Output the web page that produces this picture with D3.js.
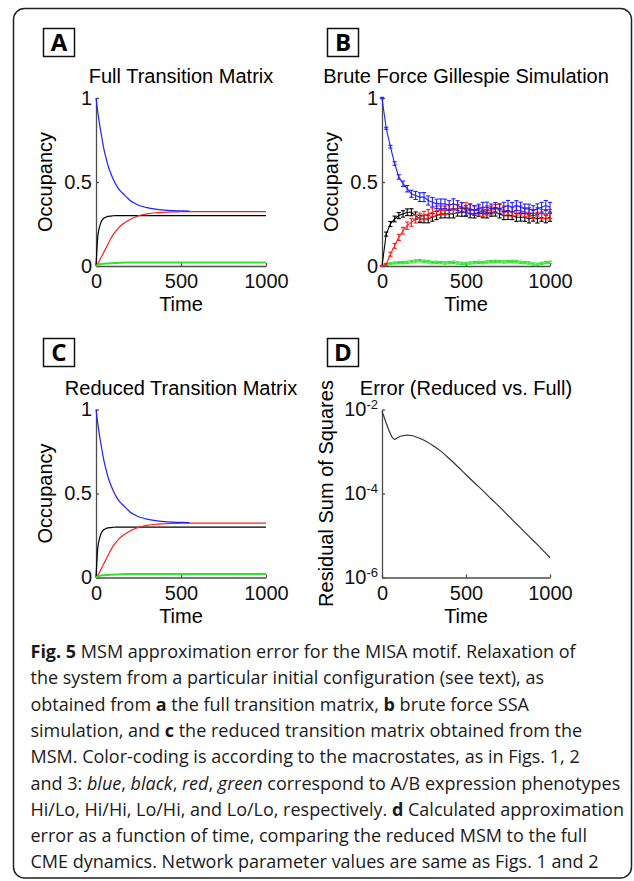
<!DOCTYPE html>
<html>
<head>
<meta charset="utf-8">
<script src="https://cdn.jsdelivr.net/npm/d3@7"></script>
<style>
  body { margin: 0; background: #fff; }
  svg { display: block; }
  .plot text { font-family: "Liberation Sans", Arial, Helvetica, sans-serif; }
</style>
</head>
<body>
<svg id="fig" width="634" height="881"></svg>
<script>
// ---- data ----
// A: full transition matrix
var timeFull = [0, 10, 20, 30, 40, 50, 60, 70, 80, 100, 120, 140, 160, 180, 200, 225, 250, 275, 300, 350, 400, 450, 500, 550, 600, 700, 800, 900, 1000];
var fullBlue  = [1.00, 0.92, 0.85, 0.79, 0.73, 0.68, 0.64, 0.60, 0.57, 0.52, 0.48, 0.45, 0.43, 0.41, 0.39, 0.375, 0.362, 0.354, 0.347, 0.338, 0.333, 0.330, 0.328, 0.327];
var fullBlack = [0, 0.17, 0.23, 0.262, 0.278, 0.287, 0.292, 0.295, 0.297, 0.299, 0.300, 0.300, 0.300, 0.300, 0.300, 0.300, 0.300, 0.300, 0.300, 0.300, 0.300, 0.300, 0.300, 0.300, 0.300, 0.300, 0.300, 0.300, 0.300];
var fullRed   = [0, 0.012, 0.03, 0.05, 0.07, 0.09, 0.11, 0.13, 0.15, 0.185, 0.212, 0.235, 0.252, 0.265, 0.277, 0.289, 0.298, 0.305, 0.31, 0.317, 0.32, 0.322, 0.323, 0.324, 0.324, 0.324, 0.324, 0.324, 0.324];
var fullGreen = [0, 0.006, 0.010, 0.012, 0.013, 0.014, 0.015, 0.015, 0.016, 0.017, 0.018, 0.019, 0.020, 0.021, 0.021, 0.021, 0.021, 0.021, 0.021, 0.021, 0.021, 0.021, 0.021, 0.021, 0.021, 0.021, 0.021, 0.021, 0.021];

// C: reduced transition matrix
var reducedBlue  = [1.00, 0.92, 0.85, 0.79, 0.73, 0.68, 0.64, 0.60, 0.57, 0.52, 0.48, 0.45, 0.43, 0.41, 0.39, 0.375, 0.362, 0.354, 0.347, 0.338, 0.333, 0.330, 0.328, 0.327];
var reducedBlack = [0, 0.17, 0.23, 0.262, 0.278, 0.287, 0.292, 0.295, 0.297, 0.299, 0.300, 0.300, 0.300, 0.300, 0.300, 0.300, 0.300, 0.300, 0.300, 0.300, 0.300, 0.300, 0.300, 0.300, 0.300, 0.300, 0.300, 0.300, 0.300];
var reducedRed   = [0, 0.012, 0.03, 0.05, 0.07, 0.09, 0.11, 0.13, 0.15, 0.185, 0.212, 0.235, 0.252, 0.265, 0.277, 0.289, 0.298, 0.305, 0.31, 0.317, 0.32, 0.322, 0.323, 0.324, 0.324, 0.324, 0.324, 0.324, 0.324];
var reducedGreen = [0, 0.006, 0.010, 0.012, 0.013, 0.014, 0.015, 0.015, 0.016, 0.017, 0.018, 0.019, 0.020, 0.021, 0.021, 0.021, 0.021, 0.021, 0.021, 0.021, 0.021, 0.021, 0.021, 0.021, 0.021, 0.021, 0.021, 0.021, 0.021];

// B: brute force Gillespie (mean +/- error)
var timeSSA = [0, 25, 50, 75, 100, 125, 150, 175, 200, 225, 250, 275, 300, 325, 350, 375, 400, 425, 450, 475, 500, 525, 550, 575, 600, 625, 650, 675, 700, 725, 750, 775, 800, 825, 850, 875, 900, 925, 950, 975, 1000];
var ssaBlue  = [1.00, 0.82, 0.71, 0.61, 0.53, 0.49, 0.46, 0.43, 0.42, 0.41, 0.41, 0.39, 0.38, 0.37, 0.37, 0.37, 0.36, 0.37, 0.36, 0.35, 0.33, 0.34, 0.33, 0.34, 0.35, 0.35, 0.34, 0.35, 0.34, 0.35, 0.36, 0.35, 0.36, 0.35, 0.34, 0.34, 0.33, 0.34, 0.35, 0.36, 0.35];
var ssaBlack = [0, 0.19, 0.25, 0.28, 0.30, 0.31, 0.32, 0.32, 0.30, 0.28, 0.28, 0.28, 0.29, 0.30, 0.31, 0.31, 0.31, 0.31, 0.32, 0.32, 0.32, 0.31, 0.31, 0.32, 0.31, 0.31, 0.32, 0.32, 0.31, 0.30, 0.30, 0.30, 0.29, 0.29, 0.29, 0.28, 0.29, 0.28, 0.29, 0.28, 0.29];
var ssaRed   = [0, 0.01, 0.07, 0.12, 0.17, 0.21, 0.24, 0.26, 0.28, 0.29, 0.30, 0.31, 0.32, 0.33, 0.33, 0.33, 0.34, 0.34, 0.34, 0.35, 0.35, 0.34, 0.33, 0.33, 0.32, 0.33, 0.33, 0.34, 0.34, 0.33, 0.33, 0.32, 0.33, 0.33, 0.32, 0.32, 0.31, 0.32, 0.31, 0.31, 0.31];
var ssaGreen = [0, 0.010, 0.015, 0.018, 0.020, 0.020, 0.022, 0.025, 0.030, 0.032, 0.028, 0.025, 0.020, 0.022, 0.020, 0.018, 0.020, 0.022, 0.018, 0.016, 0.015, 0.018, 0.020, 0.022, 0.020, 0.024, 0.026, 0.028, 0.026, 0.024, 0.026, 0.028, 0.026, 0.022, 0.020, 0.018, 0.012, 0.010, 0.015, 0.020, 0.022];
var ssaBlueErr  = [0.004, 0.006, 0.008, 0.010, 0.013, 0.016, 0.019, 0.021, 0.024, 0.026, 0.027, 0.027, 0.028, 0.028, 0.029, 0.028, 0.029, 0.030, 0.029, 0.028, 0.029, 0.030, 0.029, 0.028, 0.029, 0.030, 0.029, 0.028, 0.030, 0.029, 0.030, 0.028, 0.029, 0.030, 0.029, 0.028, 0.029, 0.030, 0.029, 0.030, 0.029];
var ssaBlackErr = [0.002, 0.012, 0.015, 0.017, 0.018, 0.019, 0.020, 0.021, 0.022, 0.022, 0.023, 0.023, 0.023, 0.024, 0.024, 0.023, 0.024, 0.024, 0.023, 0.024, 0.024, 0.023, 0.024, 0.024, 0.023, 0.024, 0.024, 0.023, 0.024, 0.024, 0.023, 0.024, 0.024, 0.023, 0.024, 0.024, 0.023, 0.024, 0.024, 0.023, 0.024];
var ssaRedErr   = [0.002, 0.006, 0.012, 0.015, 0.018, 0.020, 0.022, 0.023, 0.024, 0.025, 0.025, 0.026, 0.026, 0.026, 0.027, 0.026, 0.027, 0.027, 0.026, 0.027, 0.027, 0.026, 0.027, 0.027, 0.026, 0.027, 0.027, 0.026, 0.027, 0.027, 0.026, 0.027, 0.027, 0.026, 0.027, 0.027, 0.026, 0.027, 0.027, 0.026, 0.027];
var ssaGreenErr = [0.001, 0.004, 0.005, 0.006, 0.006, 0.007, 0.007, 0.007, 0.007, 0.007, 0.007, 0.007, 0.007, 0.007, 0.007, 0.007, 0.007, 0.007, 0.007, 0.007, 0.007, 0.007, 0.007, 0.007, 0.007, 0.007, 0.007, 0.007, 0.007, 0.007, 0.007, 0.007, 0.007, 0.007, 0.007, 0.007, 0.007, 0.007, 0.007, 0.007, 0.007];

// D: residual sum of squares, reduced vs full
var timeError = [0, 10, 20, 40, 60, 75, 90, 110, 130, 150, 175, 200, 250, 300, 350, 400, 450, 500, 550, 600, 650, 700, 750, 800, 850, 900, 950, 1000];
var residualSS = [0.0089, 0.0071, 0.0054, 0.0033, 0.0022, 0.00195, 0.0021, 0.0023, 0.0024, 0.00245, 0.0024, 0.00224, 0.00186, 0.00141, 0.00102, 6.8e-4, 4.4e-4, 2.8e-4, 1.8e-4, 1.17e-4, 7.4e-5, 4.8e-5, 3.0e-5, 1.9e-5, 1.2e-5, 7.6e-6, 4.8e-6, 2.95e-6];

var timeTicks = [0, 500, 1000];
var occupancyTicks = [0, 0.5, 1];
var errorTicks = [1e-6, 1e-4, 1e-2];

var colors = {blue: '#1f1fff', black: '#000000', red: '#ff1f1f', green: '#2ee62e'};
var axisColor = '#4d4d4d';

var svg = d3.select('#fig');

// outer rounded frame
svg.append('rect')
    .attr('x', 13.5).attr('y', 8.5)
    .attr('width', 618).attr('height', 869.5)
    .attr('rx', 11)
    .attr('fill', 'none')
    .attr('stroke', '#222')
    .attr('stroke-width', 1.5);

var leftX = [96, 266], rightX = [382, 550];
var topY = [266, 98], bottomY = [577.5, 409.5];

function panelLetter(x, y, letter) {
  svg.append('rect')
      .attr('x', x).attr('y', y)
      .attr('width', 31).attr('height', 28)
      .attr('fill', '#fff').attr('stroke', '#111').attr('stroke-width', 1.5);
  svg.append('text')
      .attr('x', x + 15.5).attr('y', y + 22.5)
      .attr('text-anchor', 'middle')
      .attr('font-family', '"Open Sans", "Liberation Sans", Arial, sans-serif')
      .attr('font-weight', 700).attr('font-size', 24)
      .text(letter);
}

function styleAxis(g) {
  g.attr('font-size', 20).attr('font-family', null);
  g.select('.domain').attr('stroke', axisColor).attr('stroke-width', 1.3);
  g.selectAll('.tick line').attr('stroke', axisColor).attr('stroke-width', 1.3);
  g.selectAll('.tick text').attr('fill', '#111');
}

// builds the axes frame of one panel and returns the scales
function makePanel(xr, yr, yScale, opts) {
  var g = svg.append('g').attr('class', 'plot');
  var x = d3.scaleLinear().domain([0, 1000]).range(xr);
  var y = yScale.range(yr);

  g.append('g')
      .attr('transform', 'translate(0,' + yr[0] + ')')
      .call(d3.axisBottom(x).tickValues(timeTicks).tickFormat(d3.format('d'))
          .tickSizeInner(-3).tickSizeOuter(0).tickPadding(8))
      .call(styleAxis);

  var yAxis = d3.axisLeft(y).tickValues(opts.ticks)
      .tickSizeInner(-3).tickSizeOuter(0).tickPadding(opts.pad || 4);
  if (opts.format) yAxis.tickFormat(opts.format);
  var yg = g.append('g')
      .attr('transform', 'translate(' + xr[0] + ',0)')
      .call(yAxis)
      .call(styleAxis);
  if (opts.decorate) opts.decorate(yg);

  var midX = (xr[0] + xr[1]) / 2;
  g.append('text')
      .attr('x', midX).attr('y', yr[1] - 15)
      .attr('text-anchor', 'middle').attr('font-size', 20)
      .text(opts.title);
  g.append('text')
      .attr('x', midX).attr('y', yr[0] + 45)
      .attr('text-anchor', 'middle').attr('font-size', 20)
      .text('Time');
  g.append('text')
      .attr('transform', 'translate(' + (xr[0] - opts.labelOffset) + ',' + ((yr[0] + yr[1]) / 2) + ') rotate(-90)')
      .attr('text-anchor', 'middle').attr('font-size', 20)
      .text(opts.ylabel);

  return {g: g, x: x, y: y};
}

function drawCurve(p, times, values, color, width) {
  var pts = values.map(function(v, i) { return [times[i], v]; });
  p.g.append('path')
      .datum(pts)
      .attr('fill', 'none')
      .attr('stroke', color)
      .attr('stroke-width', width || 1.2)
      .attr('stroke-linejoin', 'round')
      .attr('d', d3.line()
          .curve(d3.curveMonotoneX)
          .x(function(d) { return p.x(d[0]); })
          .y(function(d) { return p.y(d[1]); }));
}

function drawErrorSeries(p, times, values, errs, color) {
  var pts = values.map(function(v, i) { return {t: times[i], v: v, e: errs[i]}; });
  var s = p.g.append('g').attr('stroke', color).attr('stroke-width', 1.1).attr('fill', 'none');
  s.append('path')
      .datum(pts)
      .attr('d', d3.line()
          .x(function(d) { return p.x(d.t); })
          .y(function(d) { return p.y(d.v); }));
  var bars = s.selectAll('.bar').data(pts).enter().append('g').attr('class', 'bar');
  var cap = 2.1;
  bars.append('line')
      .attr('x1', function(d) { return p.x(d.t); })
      .attr('x2', function(d) { return p.x(d.t); })
      .attr('y1', function(d) { return p.y(d.v - d.e); })
      .attr('y2', function(d) { return p.y(d.v + d.e); });
  bars.append('line')
      .attr('x1', function(d) { return p.x(d.t) - cap; })
      .attr('x2', function(d) { return p.x(d.t) + cap; })
      .attr('y1', function(d) { return p.y(d.v - d.e); })
      .attr('y2', function(d) { return p.y(d.v - d.e); });
  bars.append('line')
      .attr('x1', function(d) { return p.x(d.t) - cap; })
      .attr('x2', function(d) { return p.x(d.t) + cap; })
      .attr('y1', function(d) { return p.y(d.v + d.e); })
      .attr('y2', function(d) { return p.y(d.v + d.e); });
}

var occFormat = function(d) { return d === 0.5 ? '0.5' : String(d); };

// ---- A ----
var pA = makePanel(leftX, topY, d3.scaleLinear().domain([0, 1]),
    {ticks: occupancyTicks, format: occFormat, title: 'Full Transition Matrix', ylabel: 'Occupancy', labelOffset: 44});
drawCurve(pA, timeFull, fullBlack, colors.black);
drawCurve(pA, timeFull, fullRed, colors.red);
drawCurve(pA, timeFull, fullGreen, colors.green, 2);
drawCurve(pA, timeFull, fullBlue, colors.blue);

// ---- B ----
var pB = makePanel(rightX, topY, d3.scaleLinear().domain([0, 1]),
    {ticks: occupancyTicks, format: occFormat, title: 'Brute Force Gillespie Simulation', ylabel: 'Occupancy', labelOffset: 44});
drawErrorSeries(pB, timeSSA, ssaGreen, ssaGreenErr, colors.green);
drawErrorSeries(pB, timeSSA, ssaBlack, ssaBlackErr, colors.black);
drawErrorSeries(pB, timeSSA, ssaRed, ssaRedErr, colors.red);
drawErrorSeries(pB, timeSSA, ssaBlue, ssaBlueErr, colors.blue);

// ---- C ----
var pC = makePanel(leftX, bottomY, d3.scaleLinear().domain([0, 1]),
    {ticks: occupancyTicks, format: occFormat, title: 'Reduced Transition Matrix', ylabel: 'Occupancy', labelOffset: 44});
drawCurve(pC, timeFull, reducedBlack, colors.black);
drawCurve(pC, timeFull, reducedRed, colors.red);
drawCurve(pC, timeFull, reducedGreen, colors.green, 2);
drawCurve(pC, timeFull, reducedBlue, colors.blue);

// ---- D ----
var pD = makePanel(rightX, bottomY, d3.scaleLog().domain([1e-6, 1e-2]),
    {ticks: errorTicks, title: 'Error (Reduced vs. Full)', ylabel: 'Residual Sum of Squares', labelOffset: 49,
     decorate: function(yg) {
       yg.selectAll('.tick text').each(function(d) {
         var t = d3.select(this).text(null);
         t.append('tspan').text('10');
         t.append('tspan').attr('dy', '-0.55em').attr('font-size', 13)
             .text(String(Math.round(Math.log10(d))));
       });
     }});
drawCurve(pD, timeError, residualSS, '#333', 1.2);

// panel letters
panelLetter(43.5, 28.5, 'A');
panelLetter(327.5, 28.5, 'B');
panelLetter(43.5, 338.5, 'C');
panelLetter(327.5, 338.5, 'D');

// ---- caption ----
var captionLines = [
  [['Fig. 5', 'b'], [' MSM approximation error for the MISA motif. Relaxation of']],
  [['the system from a particular initial configuration (see text), as']],
  [['obtained from '], ['a', 'b'], [' the full transition matrix, '], ['b', 'b'], [' brute force SSA']],
  [['simulation, and '], ['c', 'b'], [' the reduced transition matrix obtained from the']],
  [['MSM. Color-coding is according to the macrostates, as in Figs. 1, 2']],
  [['and 3: '], ['blue', 'i'], [', '], ['black', 'i'], [', '], ['red', 'i'], [', '], ['green', 'i'], [' correspond to A/B expression phenotypes']],
  [['Hi/Lo, Hi/Hi, Lo/Hi, and Lo/Lo, respectively. '], ['d', 'b'], [' Calculated approximation']],
  [['error as a function of time, comparing the reduced MSM to the full']],
  [['CME dynamics. Network parameter values are same as Figs. 1 and 2']]
];

var caption = svg.append('g')
    .attr('font-family', '"Open Sans", "Noto Sans", sans-serif')
    .attr('font-size', 18)
    .attr('fill', '#1a1a1a');
captionLines.forEach(function(line, i) {
  var t = caption.append('text').attr('x', 30.5).attr('y', 658 + i * 26.3);
  line.forEach(function(seg) {
    var sp = t.append('tspan').text(seg[0]);
    if (seg[1] === 'b') sp.attr('font-weight', 700);
    if (seg[1] === 'i') sp.attr('font-style', 'italic');
  });
});
</script>
</body>
</html>
